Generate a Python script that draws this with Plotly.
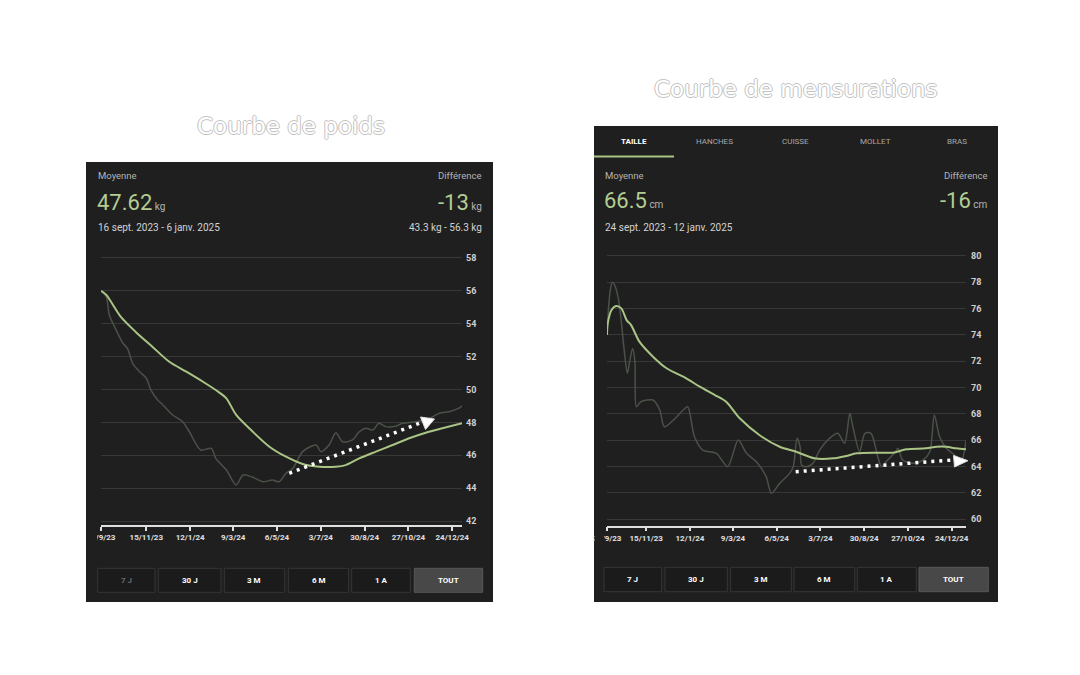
import plotly.graph_objects as go

W, H = 1080, 675
F = "Roboto"

# ---------------- Left panel: weight (kg) ----------------
w_trend_dates = ["2023-09-16", "2023-09-23", "2023-10-12", "2023-11-01", "2023-11-23", "2023-12-15",
                 "2024-01-07", "2024-01-29", "2024-02-18", "2024-02-29", "2024-03-13", "2024-04-04",
                 "2024-04-26", "2024-05-18", "2024-06-09", "2024-07-01", "2024-07-23", "2024-08-05",
                 "2024-08-23", "2024-09-14", "2024-10-06", "2024-10-28", "2024-11-19", "2024-12-11",
                 "2025-01-06"]
w_trend = [56.0, 55.75, 54.43, 53.5, 52.6, 51.7, 51.08, 50.47, 49.87, 49.46, 48.45, 47.43,
           46.52, 45.91, 45.47, 45.3, 45.3, 45.4, 45.81, 46.22, 46.62, 47.03, 47.37, 47.64, 47.94]

w_raw_dates = ["2023-09-16", "2023-09-23", "2023-09-27", "2023-10-06", "2023-10-15", "2023-10-21",
               "2023-10-28", "2023-11-06", "2023-11-15", "2023-11-21", "2023-11-30", "2023-12-07",
               "2023-12-20", "2024-01-02", "2024-01-11", "2024-01-26", "2024-02-09", "2024-02-15",
               "2024-02-29", "2024-03-13", "2024-03-22", "2024-04-04", "2024-04-17", "2024-04-30",
               "2024-05-09", "2024-05-18", "2024-05-27", "2024-06-09", "2024-06-27", "2024-07-03",
               "2024-07-14", "2024-07-23", "2024-08-01", "2024-08-14", "2024-08-23", "2024-09-01",
               "2024-09-10", "2024-09-18", "2024-09-27", "2024-10-11", "2024-10-19", "2024-11-06",
               "2024-11-24", "2024-12-07", "2024-12-20", "2025-01-02", "2025-01-06"]
w_raw = [56.0, 55.64, 54.53, 53.62, 52.81, 52.5, 51.59, 51.08, 50.68, 49.97, 49.36, 49.06,
         48.45, 48.04, 47.43, 46.32, 46.42, 45.81, 45.1, 44.19, 44.8, 44.66, 44.39, 44.49,
         44.39, 44.9, 45.2, 46.22, 46.62, 46.22, 46.62, 47.37, 46.82, 46.93, 47.43, 47.64,
         47.53, 47.94, 47.74, 47.78, 47.94, 48.04, 48.25, 48.55, 48.65, 48.86, 49.0]

w_tick_dates = ["2023-09-16", "2023-11-15", "2024-01-12", "2024-03-09", "2024-05-06", "2024-07-03",
                "2024-08-30", "2024-10-27", "2024-12-24"]
w_tick_labels = ["16/9/23", "15/11/23", "12/1/24", "9/3/24", "6/5/24", "3/7/24", "30/8/24",
                 "27/10/24", "24/12/24"]
w_yticks = [42, 44, 46, 48, 50, 52, 54, 56, 58]

# ---------------- Right panel: waist (cm) ----------------
m_trend_dates = ["2023-09-24", "2023-09-25", "2023-09-30", "2023-10-06", "2023-10-13", "2023-10-20",
                 "2023-10-26", "2023-11-06", "2023-11-24", "2023-12-12", "2024-01-07", "2024-01-25",
                 "2024-02-14", "2024-02-29", "2024-03-18", "2024-04-13", "2024-05-10", "2024-06-01",
                 "2024-06-25", "2024-07-20", "2024-08-06", "2024-08-20", "2024-09-15", "2024-10-07",
                 "2024-10-25", "2024-11-20", "2024-12-04", "2024-12-17", "2024-12-30", "2025-01-12"]
m_trend = [74.0, 74.88, 75.89, 76.2, 76.02, 75.13, 74.75, 73.49, 72.35, 71.47, 70.71, 70.07,
           69.44, 68.93, 67.67, 66.4, 65.51, 65.13, 64.63, 64.63, 64.81, 65.01, 65.06, 65.06,
           65.32, 65.39, 65.51, 65.51, 65.39, 65.32]

m_raw_dates = ["2023-09-24", "2023-09-28", "2023-10-01", "2023-10-04", "2023-10-09", "2023-10-13",
               "2023-10-17", "2023-10-21", "2023-10-24", "2023-10-28", "2023-10-31", "2023-11-02",
               "2023-11-08", "2023-11-24", "2023-12-03", "2023-12-09", "2023-12-21", "2024-01-03",
               "2024-01-09", "2024-01-18", "2024-01-29", "2024-02-16", "2024-03-02", "2024-03-16",
               "2024-03-27", "2024-04-09", "2024-04-22", "2024-04-29", "2024-05-10", "2024-05-23",
               "2024-05-28", "2024-06-02", "2024-06-06", "2024-06-08", "2024-06-14", "2024-06-23",
               "2024-07-02", "2024-07-15", "2024-07-26", "2024-08-04", "2024-08-11", "2024-08-15",
               "2024-08-24", "2024-08-31", "2024-09-08", "2024-09-17", "2024-09-22", "2024-09-28",
               "2024-10-09", "2024-10-14", "2024-10-20", "2024-11-03", "2024-11-16", "2024-11-25",
               "2024-12-01", "2024-12-08", "2024-12-17", "2024-12-28", "2025-01-06", "2025-01-12"]
m_raw = [74.0, 77.28, 78.0, 77.8, 76.78, 75.0, 72.73, 71.09, 71.97, 72.98, 71.97, 68.55,
         68.93, 69.06, 68.3, 67.03, 67.54, 68.3, 68.55, 66.27, 65.26, 65.01, 64.0, 66.02,
         65.01, 64.37, 63.24, 61.97, 62.73, 63.49, 64.0, 66.15, 65.51, 64.12, 64.0, 64.25,
         65.26, 66.15, 66.53, 65.77, 68.05, 67.03, 65.13, 66.53, 66.53, 64.75, 64.0, 64.37,
         65.01, 65.39, 64.5, 64.25, 64.5, 65.13, 67.92, 66.27, 65.39, 64.88, 64.5, 66.02]

m_tick_dates = ["2023-09-24", "2023-11-15", "2024-01-12", "2024-03-09", "2024-05-06", "2024-07-03",
                "2024-08-30", "2024-10-27", "2024-12-24"]
m_tick_labels = ["24/9/23", "15/11/23", "12/1/24", "9/3/24", "6/5/24", "3/7/24", "30/8/24",
                 "27/10/24", "24/12/24"]
m_yticks = [60, 62, 64, 66, 68, 70, 72, 74, 76, 78, 80]

buttons = ["7 J", "30 J", "3 M", "6 M", "1 A", "TOUT"]
tabs = ["TAILLE", "HANCHES", "CUISSE", "MOLLET", "BRAS"]

# ---------------- styles ----------------
BG = "#1f1f1f"
GRID = "#383838"
GREEN = "#a9c484"
GREEN_TXT = "#b3cd92"
RAW = "#4a5248"
AXIS = "#e0e0e0"


def P(x, y):
    return x / W, 1 - y / H


fig = go.Figure()
fig.add_trace(go.Scatter(x=w_raw_dates, y=w_raw, mode="lines", xaxis="x", yaxis="y",
                         line=dict(color=RAW, width=1.5, shape="spline", smoothing=0.8)))
fig.add_trace(go.Scatter(x=w_trend_dates, y=w_trend, mode="lines", xaxis="x", yaxis="y",
                         line=dict(color=GREEN, width=2, shape="spline", smoothing=0.8)))
fig.add_trace(go.Scatter(x=m_raw_dates, y=m_raw, mode="lines", xaxis="x2", yaxis="y2",
                         line=dict(color=RAW, width=1.5, shape="spline", smoothing=0.8)))
fig.add_trace(go.Scatter(x=m_trend_dates, y=m_trend, mode="lines", xaxis="x2", yaxis="y2",
                         line=dict(color=GREEN, width=2, shape="spline", smoothing=0.8)))

shapes = []
ann = []


def rect(x0, y0, x1, y1, fill, line=None, layer="below", lw=1):
    a0, b0 = P(x0, y1)
    a1, b1 = P(x1, y0)
    shapes.append(dict(type="rect", xref="paper", yref="paper", x0=a0, y0=b0, x1=a1, y1=b1,
                       fillcolor=fill, line=dict(color=line or fill, width=lw if line else 0),
                       layer=layer))


def txt(x, y, s, size, color, xanchor="left", weight="normal", family=F):
    a, b = P(x, y)
    ann.append(dict(xref="paper", yref="paper", x=a, y=b, text=s, showarrow=False,
                    xanchor=xanchor, yanchor="middle", borderpad=0,
                    font=dict(family=family, size=size, color=color, weight=weight)))


# panels
rect(86, 162, 493, 602, BG)
rect(594, 126, 998, 602, BG)

# cover clipped first tick labels
rect(86.5, 528, 97, 546, BG, layer="above")
rect(594.5, 528, 604, 546, BG, layer="above")

# ---- left panel texts
txt(97, 176, "Moyenne", 9.5, "#b4b4b4")
txt(483, 176, "Différence", 9.5, "#b4b4b4", xanchor="right")
txt(96, 202, "<span style='font-size:22px;color:%s'>47.62</span><span style='font-size:10px;color:#b4b4b4'> kg</span>" % GREEN_TXT, 10, "#b4b4b4")
txt(483, 202, "<span style='font-size:22px;color:%s'>-13</span><span style='font-size:10px;color:#b4b4b4'> kg</span>" % GREEN_TXT, 10, "#b4b4b4", xanchor="right")
txt(97, 228, "16 sept. 2023 - 6 janv. 2025", 10, "#d2d2d2")
txt(483, 228, "43.3 kg - 56.3 kg", 10, "#d2d2d2", xanchor="right")

# ---- right panel texts
tab_x = [634, 714, 795, 875.5, 957.3]
for i, t in enumerate(tabs):
    txt(tab_x[i], 141.5, t, 8, "#ffffff" if i == 0 else "#a8a8a8", xanchor="center",
        weight="bold" if i == 0 else "normal")
rect(594, 155.5, 674, 157.5, GREEN)
txt(604, 175, "Moyenne", 9.5, "#b4b4b4")
txt(989, 175, "Différence", 9.5, "#b4b4b4", xanchor="right")
txt(603, 201, "<span style='font-size:22px;color:%s'>66.5</span><span style='font-size:10px;color:#b4b4b4'> cm</span>" % GREEN_TXT, 10, "#b4b4b4")
txt(989, 201, "<span style='font-size:22px;color:%s'>-16</span><span style='font-size:10px;color:#b4b4b4'> cm</span>" % GREEN_TXT, 10, "#b4b4b4", xanchor="right")
txt(604, 227, "24 sept. 2023 - 12 janv. 2025", 10, "#d2d2d2")

# ---- buttons
lb = [(97.7, 155), (158.3, 221), (224.3, 284.7), (288.3, 348.7), (351.7, 410.3), (414.3, 482.7)]
rb = [(604, 661.7), (665, 727.3), (730.7, 791.3), (794, 854.7), (857.3, 916.3), (919, 988.3)]
for i, (a, b) in enumerate(lb):
    active = i == len(lb) - 1
    rect(a, 568.3, b, 592.3, "#484848" if active else "#1b1b1b", line="#585858" if active else "#363636")
    col = "#6a6a6a" if i == 0 else "#ffffff"
    txt((a + b) / 2, 580.3, buttons[i], 8, col, xanchor="center", weight="bold")
for i, (a, b) in enumerate(rb):
    active = i == len(rb) - 1
    rect(a, 567.3, b, 591.7, "#484848" if active else "#1b1b1b", line="#585858" if active else "#363636")
    txt((a + b) / 2, 579.5, buttons[i], 8, "#ffffff", xanchor="center", weight="bold")

# ---- hand-drawn style titles (hollow)
hollow = "1px 0 0 #c2c2c2, -1px 0 0 #c2c2c2, 0 1px 0 #c2c2c2, 0 -1px 0 #c2c2c2"
for (x, y, s) in [(291, 126, "Courbe de poids"), (796, 89, "Courbe de mensurations")]:
    a, b = P(x, y)
    ann.append(dict(xref="paper", yref="paper", x=a, y=b, text=s, showarrow=False,
                    xanchor="center", yanchor="middle",
                    font=dict(family="DejaVu Sans", size=23, color="#ffffff", shadow=hollow)))

# ---- dotted arrows (overlay)
def dotted_arrow(p0, p1, head):
    a0, b0 = P(*p0)
    a1, b1 = P(*p1)
    shapes.append(dict(type="line", xref="paper", yref="paper", x0=a0, y0=b0, x1=a1, y1=b1,
                       line=dict(color="#ffffff", width=3.5, dash="3px,5px"), layer="above"))
    pts = [P(*h) for h in head]
    path = "M " + " L ".join("%.5f,%.5f" % p for p in pts) + " Z"
    shapes.append(dict(type="path", xref="paper", yref="paper", path=path,
                       fillcolor="#ffffff", line=dict(color="#dddddd", width=1), layer="above"))


dotted_arrow((289.3, 473.3), (419.3, 423.3), [(420.5, 417), (434.5, 419), (425.5, 429.5)])
dotted_arrow((795.7, 471.7), (952.3, 460), [(953.5, 455.5), (968, 460.7), (954.5, 467)])

tickfont = dict(family=F, size=8, color=AXIS, weight="bold")
yfont = dict(family=F, size=9, color="#cfcfcf", weight="bold")

fig.update_layout(
    width=W, height=H, margin=dict(l=0, r=0, t=0, b=0, autoexpand=False),
    paper_bgcolor="#ffffff", plot_bgcolor="rgba(0,0,0,0)",
    showlegend=False, hovermode=False,
    shapes=shapes, annotations=ann,
    xaxis=dict(domain=[101 / W, 462 / W], anchor="y", type="date", automargin=False,
               range=["2023-09-16", "2025-01-06"], tickvals=w_tick_dates, ticktext=w_tick_labels,
               showgrid=False, zeroline=False, showline=True, linecolor=AXIS, linewidth=1.5,
               ticks="outside", ticklen=4, tickwidth=1.5, tickcolor=AXIS, tickfont=tickfont,
               fixedrange=True),
    yaxis=dict(domain=[1 - 525 / H, 1 - 249.7 / H], anchor="x", side="right", automargin=False,
               range=[41.757, 58.5], tickvals=w_yticks, showgrid=True, gridcolor=GRID,
               gridwidth=1, zeroline=False, showline=False, ticks="", tickfont=yfont,
               ticklabelstandoff=3, fixedrange=True),
    xaxis2=dict(domain=[607 / W, 966 / W], anchor="y2", type="date", automargin=False,
                range=["2023-09-24", "2025-01-12"], tickvals=m_tick_dates, ticktext=m_tick_labels,
                showgrid=False, zeroline=False, showline=True, linecolor=AXIS, linewidth=1.5,
                ticks="outside", ticklen=4, tickwidth=1.5, tickcolor=AXIS, tickfont=tickfont,
                fixedrange=True),
    yaxis2=dict(domain=[1 - 525.7 / H, 1 - 249.4 / H], anchor="x2", side="right", automargin=False,
                range=[59.514, 80.5], tickvals=m_yticks, showgrid=True, gridcolor=GRID,
                gridwidth=1, zeroline=False, showline=False, ticks="", tickfont=yfont,
                ticklabelstandoff=4, fixedrange=True),
)

fig.write_html("out.html", config={"displayModeBar": False})
